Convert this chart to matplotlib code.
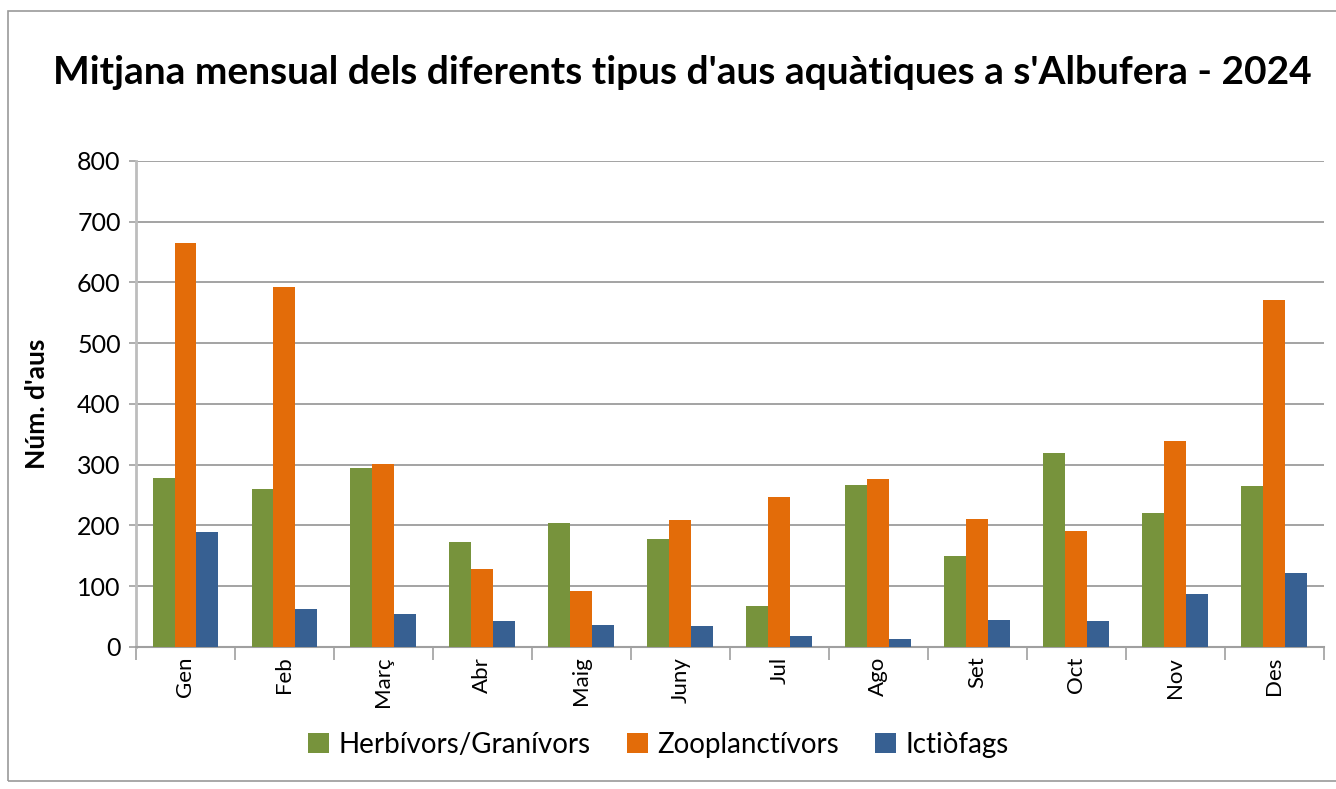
import numpy as np
import matplotlib.pyplot as plt
from matplotlib.patches import Rectangle

mesos = ['Gen', 'Feb', 'Març', 'Abr', 'Maig', 'Juny', 'Jul', 'Ago', 'Set', 'Oct', 'Nov', 'Des']
herbivors = [278, 260, 294, 172, 204, 177, 67, 266, 149, 319, 220, 265]
zooplanctivors = [665, 593, 301, 128, 92, 209, 247, 276, 210, 191, 339, 571]
ictiofags = [189, 62, 55, 42, 36, 34, 18, 13, 44, 42, 87, 121]

series = ['Herbívors/Granívors', 'Zooplanctívors', 'Ictiòfags']
colors = ['#77933C', '#E36C09', '#376092']

plt.rcParams['font.family'] = ['Lato', 'DejaVu Sans']

fig = plt.figure(figsize=(13.36, 7.89), dpi=100)
ax = fig.add_axes([0.1018, 0.18, 0.889, 0.616])

# chart border
fig.patches.append(Rectangle((0.006, 0.01), 1.2, 0.976, transform=fig.transFigure,
                             fill=False, edgecolor='#9a9a9a', linewidth=1.2))

x = np.arange(len(mesos))
w = 0.222
for i, (vals, name, c) in enumerate(zip([herbivors, zooplanctivors, ictiofags], series, colors)):
    ax.bar(x + (i - 1) * w, vals, width=w, color=c, label=name, zorder=3)

ax.set_xlim(-0.5, len(mesos) - 0.5)
ax.set_ylim(0, 800)
ax.set_yticks(range(0, 801, 100))
ax.yaxis.grid(True, color='#8a8a8a', linewidth=1.1, zorder=0)

ax.set_xticks(x)
ax.set_xticklabels(mesos, rotation=90, fontsize=16)
ax.set_xticks(np.arange(-0.5, len(mesos)), minor=True)
ax.tick_params(axis='x', which='major', length=0, pad=7)
ax.tick_params(axis='x', which='minor', length=9, color='#a0a0a0', width=1.2)
ax.tick_params(axis='y', labelsize=18, length=5, color='#a0a0a0', width=1.2, pad=6)

for s in ['top', 'right']:
    ax.spines[s].set_visible(False)
ax.spines['left'].set_color('#bdbdbd')
ax.spines['left'].set_linewidth(2)
ax.spines['bottom'].set_color('#a0a0a0')
ax.spines['bottom'].set_linewidth(1.5)

ax.set_ylabel("Núm. d'aus", fontsize=19, fontweight='bold', labelpad=20)

fig.text(0.511, 0.908, "Mitjana mensual dels diferents tipus d'aus aquàtiques a s'Albufera - 2024",
         ha='center', va='center', fontsize=28, fontweight='bold')

leg = fig.legend(loc='center', bbox_to_anchor=(0.493, 0.056), ncol=3, frameon=False,
                 fontsize=20, handlelength=0.75, handleheight=0.75, handletextpad=0.35,
                 columnspacing=1.3)

fig.savefig('out.png', dpi=100)
